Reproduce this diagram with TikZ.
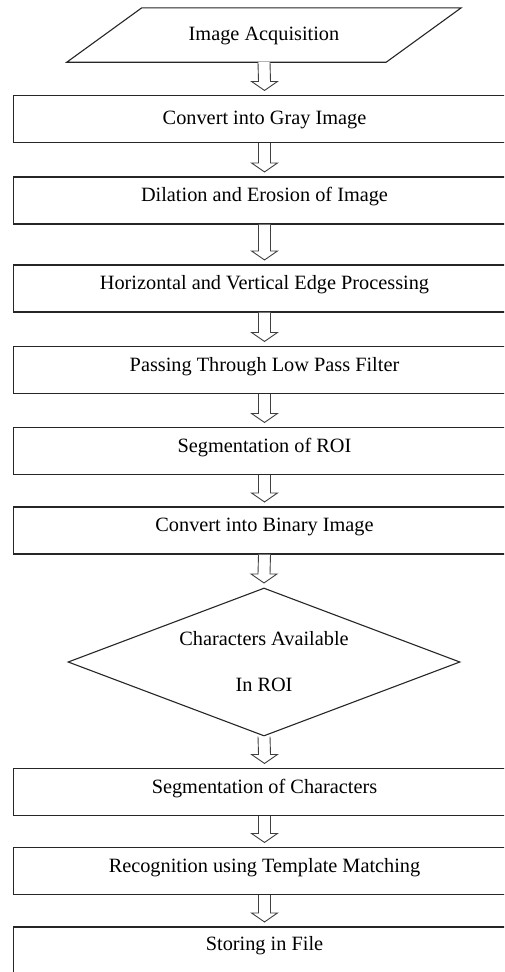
\documentclass[tikz,border=0pt]{standalone}
\usepackage{fontspec}
\setmainfont{Liberation Serif}
\usetikzlibrary{calc,shapes.geometric}
\tikzset{
  txt/.style={font=\fontsize{20.3}{24}\selectfont},
  box/.style={txt, draw=black!85, line width=1.1pt, minimum width=502pt, minimum height=47pt,
    text height=14pt, text depth=12pt, inner sep=0pt},
  blockarrow/.style={draw=black!75, line width=0.9pt, fill=white, line join=miter},
  frame/.style={draw=black!85, line width=1.1pt, line join=miter}
}
\newcommand\hollowarrow[2]{%
  \draw[blockarrow] ($(#1.south)+(-6pt,0pt)$) -- ($(#2.north)+(-6pt,13.5pt)$)
    -- ($(#2.north)+(-13pt,13.5pt)$) -- ($(#2.north)+(0pt,4.5pt)$)
    -- ($(#2.north)+(13pt,13.5pt)$) -- ($(#2.north)+(6pt,13.5pt)$)
    -- ($(#1.south)+(6pt,0pt)$);}
\begin{document}
\begin{tikzpicture}[x=1pt,y=-1pt]
\useasboundingbox (0,0) rectangle (504,972);
\clip (0,0) rectangle (504,972);
\fill[white] (0,0) rectangle (504,972);
% input parallelogram
\node[txt, minimum width=319pt, minimum height=54pt, inner sep=0pt, text height=14pt, text depth=4pt] (p) at (264,35) {Image Acquisition};
\draw[frame] ($(p.south west)+(-37.5pt,0pt)$) -- ($(p.south east)+(-37.5pt,0pt)$)
  -- ($(p.north east)+(37.5pt,0pt)$) -- ($(p.north west)+(37.5pt,0pt)$) -- cycle;
% boxes
\node[box, text depth=4pt] (b1) at (264.5,119)   {Convert into Gray Image};
\node[box] (b2) at (264.5,200.5) {Dilation and Erosion of Image};
\node[box] (b3) at (264.5,288.5) {Horizontal and Vertical Edge Processing};
\node[box] (b4) at (264.5,370)   {Passing Through Low Pass Filter};
\node[box] (b5) at (264.5,451)   {Segmentation of ROI};
\node[box] (b6) at (264.5,530.5) {Convert into Binary Image};
\node[txt, diamond, shape aspect=2.65, draw=black!85, line width=1.1pt, minimum width=392pt, minimum height=148pt,
  inner sep=0pt, align=center] (d) at (264,662) {Characters Available\\[22pt]In ROI};
\node[box] (b7) at (264.5,792)   {Segmentation of Characters};
\node[box] (b8) at (264.5,871)   {Recognition using Template Matching};
\node[box, minimum height=52pt, text depth=19pt] (b9) at (264.5,953) {Storing in File};
% arrows
\hollowarrow{p}{b1}
\hollowarrow{b1}{b2}
\hollowarrow{b2}{b3}
\hollowarrow{b3}{b4}
\hollowarrow{b4}{b5}
\hollowarrow{b5}{b6}
\hollowarrow{b6}{d}
\hollowarrow{d}{b7}
\hollowarrow{b7}{b8}
\hollowarrow{b8}{b9}
\end{tikzpicture}
\end{document}
